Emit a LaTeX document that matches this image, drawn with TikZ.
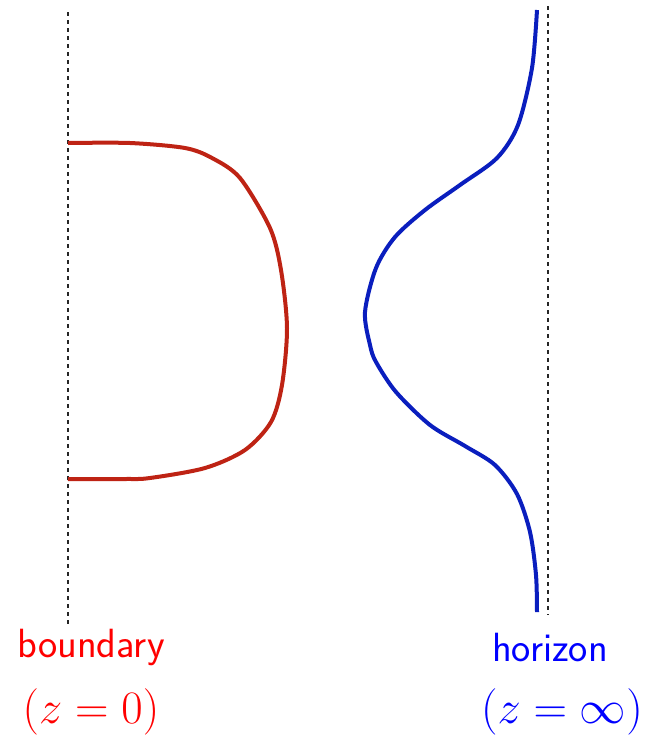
\documentclass[tikz,border=0pt]{standalone}
\usepackage{amsmath,amssymb}
\usetikzlibrary{arrows.meta,positioning}

\definecolor{bdyred}{RGB}{190,35,20}
\definecolor{hrzblue}{RGB}{10,30,190}
\newcommand{\bigeq}[1]{\scalebox{1.12}{$#1$}}

\begin{document}
\begin{tikzpicture}[x=0.5pt, y=-0.5pt, >=Stealth,
    wall/.style={black!85, line width=0.6pt, dash pattern=on 2pt off 2pt},
    curve/.style={line width=2pt, line join=round},
    lbl/.style={font=\sffamily\fontsize{20.4}{25}\selectfont, inner sep=0pt},
    eqn/.style={font=\fontsize{20.74}{25}\selectfont, inner sep=0pt}]
    \useasboundingbox (0,0) rectangle (648,735);
    % the two ends
    \coordinate (bdytop) at (68,12);
    \coordinate (bdybot) at (68,625);
    \coordinate (hrztop) at (548,6);
    \coordinate (hrzbot) at (548,615);
    \draw[wall] (bdytop) -- (bdybot);
    \draw[wall] (hrztop) -- (hrzbot);
    % the two surfaces
    \draw[curve, bdyred] plot[smooth, tension=0.5] coordinates {(68,143) (130,143) (185,148) (212,158) (240,178) (270,228) (281,270) (287,328) (282,385) (271,422) (245,450) (205,468) (150,478) (125,479) (68,479)};
    \draw[curve, hrzblue] plot[smooth, tension=0.5] coordinates {(537,10) (532,68) (518,125) (497,158) (460,185) (425,210) (395,237) (376,268) (365,312) (370,345) (376,362) (396,392) (430,425) (465,446) (495,465) (517,494) (530,532) (536,575) (537,612)};
    % labels
    \node[lbl, text=red] (bdyname) at (91,647) {boundary};
    \node[eqn, text=red] (bdyeq) at (91,712) {\bigeq{(z=0)}};
    \node[lbl, text=blue] (hrzname) at (550,647) {horizon};
    \node[eqn, text=blue] (hrzeq) at (562,712) {\bigeq{(z=\infty)}};
\end{tikzpicture}
\end{document}
